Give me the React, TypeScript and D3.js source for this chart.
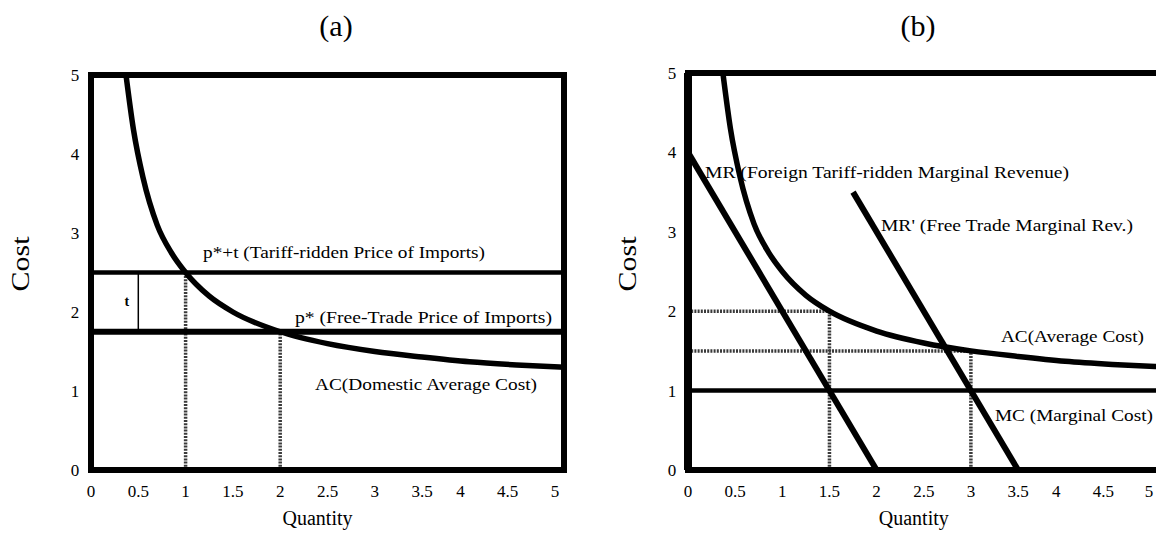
import React from 'react';
import * as d3 from 'd3';

// values
const qtyTicks = [0, 0.5, 1, 1.5, 2, 2.5, 3, 3.5, 4, 4.5, 5];
const costTicks = [0, 1, 2, 3, 4, 5];

const acQty = [0.37, 0.45, 0.55, 0.7, 0.85, 1, 1.25, 1.5, 2, 2.5, 3, 3.5, 4, 4.5, 5];
const acCostA = [5, 4.3, 3.7, 3.1, 2.75, 2.5, 2.2, 2.0, 1.75, 1.6, 1.5, 1.43, 1.37, 1.33, 1.3];
const acCostB = [5, 4.3, 3.7, 3.1, 2.75, 2.5, 2.2, 2.0, 1.75, 1.6, 1.5, 1.43, 1.37, 1.33, 1.3];

const tariffPrice = 2.5;
const freePrice = 1.75;
const dropQtyA = [1, 2];
const dropCostA = [2.5, 1.75];

const mrQty = [0, 2];
const mrCost = [4, 0];
const mrFreeQty = [1.75, 3.5];
const mrFreeCost = [3.5, 0];
const mcCost = 1;
const dropQtyB = [1.5, 3];
const dropCostB = [2, 1.5];

const FONT = '"Liberation Serif", "Times New Roman", serif';

const xA = d3.scaleLinear().domain([0, 5]).range([91, 564]);
const yA = d3.scaleLinear().domain([0, 5]).range([470, 75]);
const xB = d3.scaleLinear().domain([0, 5]).range([688, 1159.5]);
const yB = d3.scaleLinear().domain([0, 5]).range([470, 73]);

const dotted = { stroke: '#3a3a3a', strokeWidth: 3.5, strokeDasharray: '2 1.2' };

const Axes = ({ x, y, title, titleX, costX }) => (
  <g fontFamily={FONT} fill="#000">
    <text x={titleX} y={36} fontSize={30} textAnchor="middle">{title}</text>
    {qtyTicks.map((t) => (
      <text
        key={'q' + t}
        x={Math.min(x(t) - (t >= 4 ? 9 : 0), 1149)}
        y={497}
        fontSize={17}
        textAnchor="middle"
      >
        {t}
      </text>
    ))}
    {costTicks.map((t) => (
      <text key={'c' + t} x={x(0) - 16} y={y(t) + 6} fontSize={17} textAnchor="middle">{t}</text>
    ))}
    <text x={(x(0) + x(5)) / 2 - 10} y={525} fontSize={20} textAnchor="middle">Quantity</text>
    <text
      transform={`translate(${costX}, 264) rotate(-90)`}
      fontSize={26}
      textAnchor="middle"
      dy="0.35em"
      textLength={55}
      lengthAdjust="spacingAndGlyphs"
    >
      Cost
    </text>
  </g>
);

const Label = ({ x, y, w, children, size = 17 }) => (
  <text x={x} y={y} fontFamily={FONT} fontSize={size} textLength={w} lengthAdjust="spacingAndGlyphs">
    {children}
  </text>
);

export default function App() {
  const lineA = d3.line().curve(d3.curveMonotoneX).x((d) => xA(d[0])).y((d) => yA(d[1]));
  const lineB = d3.line().curve(d3.curveMonotoneX).x((d) => xB(d[0])).y((d) => yB(d[1]));
  const acA = lineA(acQty.map((q, i) => [q, acCostA[i]]));
  const acB = lineB(acQty.map((q, i) => [q, acCostB[i]]));

  return (
    <>
      <style>{'body{margin:0}'}</style>
      <svg width={1156} height={534} style={{ display: 'block', background: '#fff' }}>
        {/* panel (a) */}
        <Axes x={xA} y={yA} title="(a)" titleX={336} costX={20} />
        {dropQtyA.map((q, i) => (
          <line key={q} x1={xA(q)} x2={xA(q)} y1={yA(0)} y2={yA(dropCostA[i])} {...dotted} />
        ))}
        <line x1={xA(0)} x2={xA(5)} y1={yA(tariffPrice)} y2={yA(tariffPrice)} stroke="#000" strokeWidth={4.5} />
        <line x1={xA(0)} x2={xA(5)} y1={yA(freePrice)} y2={yA(freePrice)} stroke="#000" strokeWidth={6} />
        <line x1={xA(0.5)} x2={xA(0.5)} y1={yA(tariffPrice)} y2={yA(freePrice)} stroke="#000" strokeWidth={1.5} />
        <text x={xA(0.38)} y={yA(2.07)} fontFamily={FONT} fontSize={14} fontWeight="bold" textAnchor="middle">t</text>
        <path d={acA} fill="none" stroke="#000" strokeWidth={5.5} />
        <rect x={xA(0)} y={yA(5)} width={xA(5) - xA(0)} height={yA(0) - yA(5)} fill="none" stroke="#000" strokeWidth={6} />
        <Label x={203} y={258} w={282}>p*+t (Tariff-ridden Price of Imports)</Label>
        <Label x={295} y={323} w={257}>p* (Free-Trade Price of Imports)</Label>
        <Label x={315} y={390} w={222}>AC(Domestic Average Cost)</Label>

        {/* panel (b) */}
        <Axes x={xB} y={yB} title="(b)" titleX={918} costX={627} />
        <line x1={xB(0)} x2={xB(dropQtyB[0])} y1={yB(dropCostB[0])} y2={yB(dropCostB[0])} {...dotted} />
        <line x1={xB(0)} x2={xB(dropQtyB[1])} y1={yB(dropCostB[1])} y2={yB(dropCostB[1])} {...dotted} />
        {dropQtyB.map((q, i) => (
          <line key={q} x1={xB(q)} x2={xB(q)} y1={yB(0)} y2={yB(dropCostB[i])} {...dotted} />
        ))}
        <line x1={xB(0)} x2={xB(5)} y1={yB(mcCost)} y2={yB(mcCost)} stroke="#000" strokeWidth={4.5} />
        <path d={acB} fill="none" stroke="#000" strokeWidth={5.5} />
        <line x1={xB(mrQty[0])} x2={xB(mrQty[1])} y1={yB(mrCost[0])} y2={yB(mrCost[1])} stroke="#000" strokeWidth={6} />
        <line x1={xB(mrFreeQty[0])} x2={xB(mrFreeQty[1])} y1={yB(mrFreeCost[0])} y2={yB(mrFreeCost[1])} stroke="#000" strokeWidth={6} />
        <rect x={xB(0)} y={yB(5)} width={xB(5) - xB(0)} height={yB(0) - yB(5)} fill="none" stroke="#000" strokeWidth={6} />
        <line x1={xB(0)} x2={xB(0)} y1={yB(5)} y2={yB(0)} stroke="#000" strokeWidth={8} />
        <Label x={705} y={178} w={364}>MR (Foreign Tariff-ridden Marginal Revenue)</Label>
        <Label x={881} y={231} w={252}>MR' (Free Trade Marginal Rev.)</Label>
        <Label x={1001} y={342} w={143}>AC(Average Cost)</Label>
        <Label x={995} y={421} w={158}>MC (Marginal Cost)</Label>
      </svg>
    </>
  );
}
